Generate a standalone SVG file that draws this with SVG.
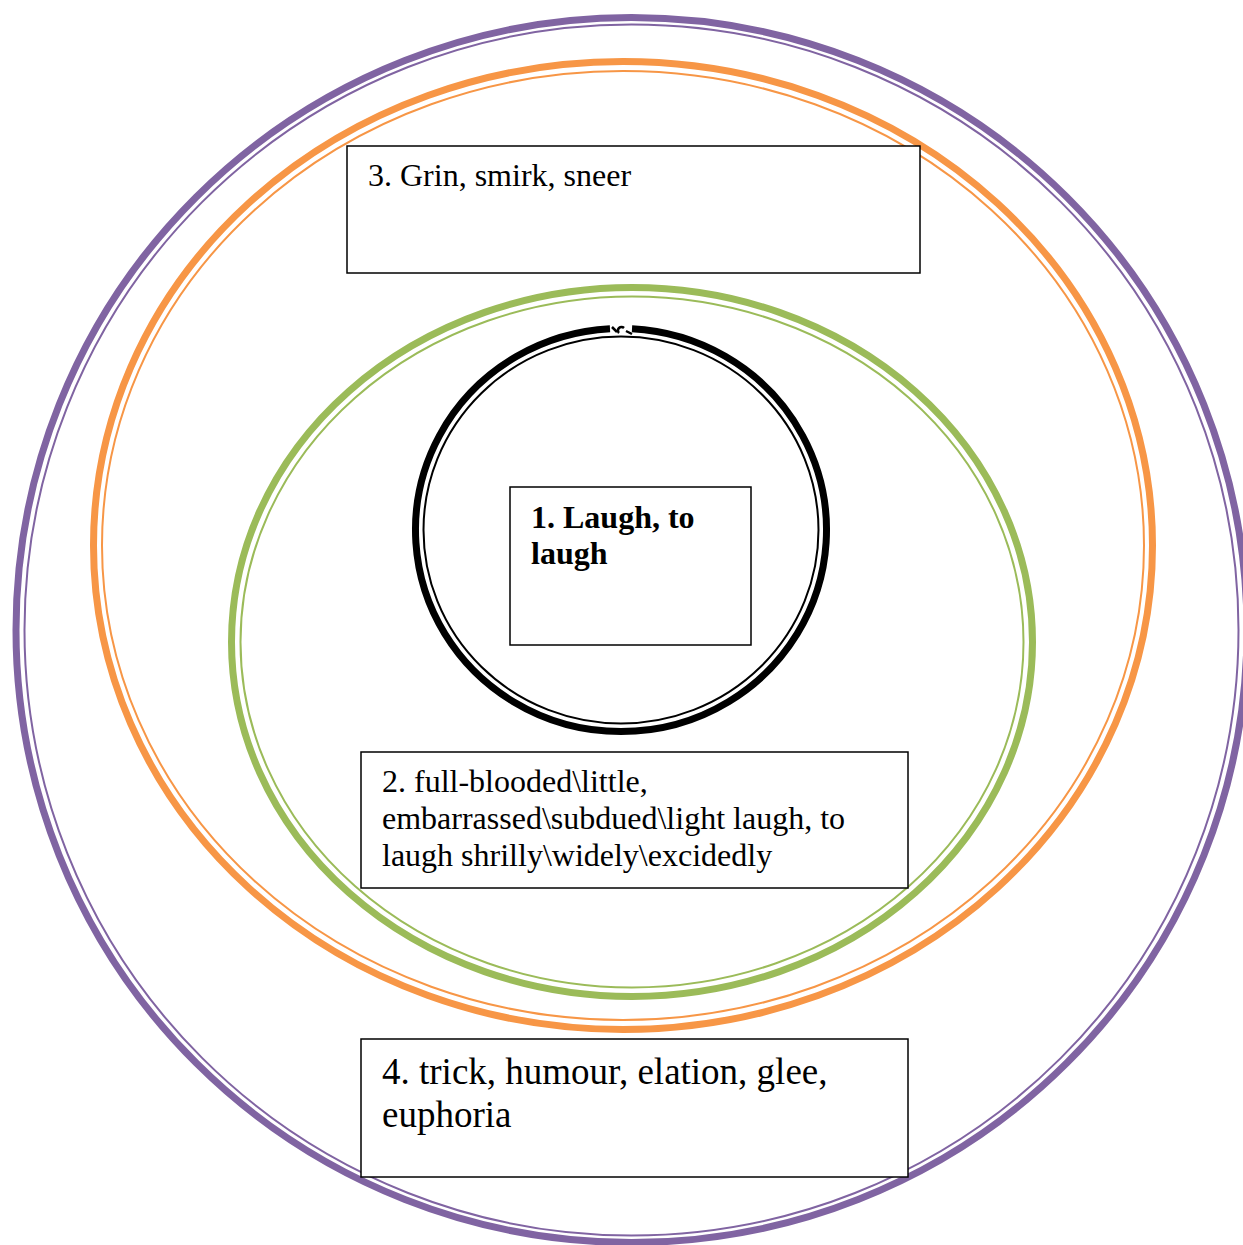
<svg xmlns="http://www.w3.org/2000/svg" width="1243" height="1245" viewBox="0 0 1243 1245">
<style>
.thick{fill:none;stroke-width:7}
.thin{fill:none;stroke-width:2}
.purple{stroke:#8064A2}
.orange{stroke:#F79646}
.green{stroke:#9BBB59}
.black{stroke:#000000}
.box{fill:#ffffff;stroke:#000000;stroke-width:1.5}
.t{font-family:"Liberation Serif","Times New Roman",serif;font-size:32px;fill:#000000}
.b{font-weight:bold}
.big{font-size:37px}
</style>
<rect x="0" y="0" width="1243" height="1245" fill="#ffffff"/>
<g id="ring4">
<ellipse class="thick purple" cx="631.5" cy="630" rx="615.5" ry="612.5"/>
<ellipse class="thin purple" cx="631.5" cy="630" rx="607" ry="605.5"/>
</g>
<g id="ring3">
<ellipse class="thick orange" cx="623" cy="545.5" rx="529.5" ry="484"/>
<ellipse class="thin orange" cx="623" cy="545.5" rx="521" ry="474.5"/>
</g>
<g id="ring2">
<ellipse class="thick green" cx="632" cy="642" rx="400.5" ry="354.5"/>
<ellipse class="thin green" cx="632" cy="642" rx="391.5" ry="345.5"/>
</g>
<g id="ring1">
<path class="thick black" d="M 610 328.8 A 205.5 201.5 0 1 0 632 328.8"/>
<path fill="none" stroke="#000" stroke-width="2.5" d="M 612 327 L 617 332 M 619 333 A 3.5 3.5 0 1 1 624 328 M 626 331 L 632 334"/>
<ellipse class="thin black" cx="621" cy="530" rx="197.5" ry="193.5"/>
</g>
<g id="node3">
<rect class="box" x="347" y="146" width="573" height="127"/>
<text class="t" x="368" y="186">3. Grin, smirk, sneer</text>
</g>
<g id="node1">
<rect class="box" x="510" y="487" width="241" height="158"/>
<text class="t b" x="531" y="528">1. Laugh, to</text>
<text class="t b" x="531" y="564">laugh</text>
</g>
<g id="node2">
<rect class="box" x="361" y="752" width="547" height="136"/>
<text class="t" x="382" y="792">2. full-blooded\little,</text>
<text class="t" x="382" y="829">embarrassed\subdued\light laugh, to</text>
<text class="t" x="382" y="866">laugh shrilly\widely\excidedly</text>
</g>
<g id="node4">
<rect class="box" x="361" y="1039" width="547" height="138"/>
<text class="t big" x="382" y="1084">4. trick, humour, elation, glee,</text>
<text class="t big" x="382" y="1127">euphoria</text>
</g>
<g id="connectors"></g>
</svg>
